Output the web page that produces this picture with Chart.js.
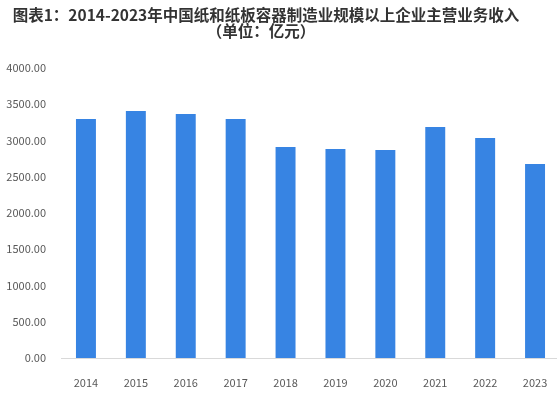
<!DOCTYPE html>
<html>
<head>
<meta charset="utf-8">
<script src="https://cdn.jsdelivr.net/npm/chart.js@4/dist/chart.umd.min.js"></script>
<style>
  html, body { margin: 0; padding: 0; background: #fff; overflow: hidden; }
  #wrap { width: 560px; height: 398px; }
</style>
</head>
<body>
<div id="wrap"><canvas id="revenueChart" width="560" height="398"></canvas></div>
<script>
// data
const years = ['2014', '2015', '2016', '2017', '2018', '2019', '2020', '2021', '2022', '2023'];
const revenue = [3297, 3407, 3366, 3297, 2912, 2883, 2869, 3186, 3034, 2676];
const titleLines = ['图表1：2014-2023年中国纸和纸板容器制造业规模以上企业主营业务收入', '（单位：亿元）'];

const fontFamily = '"Microsoft YaHei", "Noto Sans CJK SC", "Noto Sans", sans-serif';

// title drawn by hand so it sits where the original does
const titlePlugin = {
  id: 'titleText',
  afterDraw(chart) {
    const ctx = chart.ctx;
    ctx.save();
    ctx.fillStyle = '#333333';
    ctx.font = 'bold 15.5px ' + fontFamily;
    ctx.textAlign = 'center';
    ctx.textBaseline = 'middle';
    ctx.fillText(titleLines[0], 266, 15);
    ctx.fillText(titleLines[1], 261, 31);
    ctx.restore();
  }
};

const ctx = document.getElementById('revenueChart').getContext('2d');
new Chart(ctx, {
  type: 'bar',
  data: {
    labels: years,
    datasets: [{
      data: revenue,
      backgroundColor: '#3784e3',
      barPercentage: 0.4,
      categoryPercentage: 1.0
    }]
  },
  options: {
    responsive: false,
    animation: false,
    layout: { padding: { top: 68, right: 0, left: 0, bottom: 0 } },
    plugins: {
      legend: { display: false },
      title: { display: false },
      tooltip: { enabled: false }
    },
    scales: {
      x: {
        grid: { display: false },
        border: { display: true, color: '#d9d9d9', width: 1 },
        ticks: { color: '#595959', font: { family: fontFamily, size: 11 }, padding: 10, maxRotation: 0 },
        afterFit(scale) { scale.height = 40; }
      },
      y: {
        min: 0,
        max: 4000,
        grid: { display: false, drawTicks: false },
        border: { display: false },
        ticks: {
          stepSize: 500,
          color: '#595959',
          font: { family: fontFamily, size: 11 },
          padding: 15,
          callback: v => v.toFixed(2)
        },
        afterFit(scale) { scale.width = 61; }
      }
    }
  },
  plugins: [titlePlugin]
});
</script>
</body>
</html>
